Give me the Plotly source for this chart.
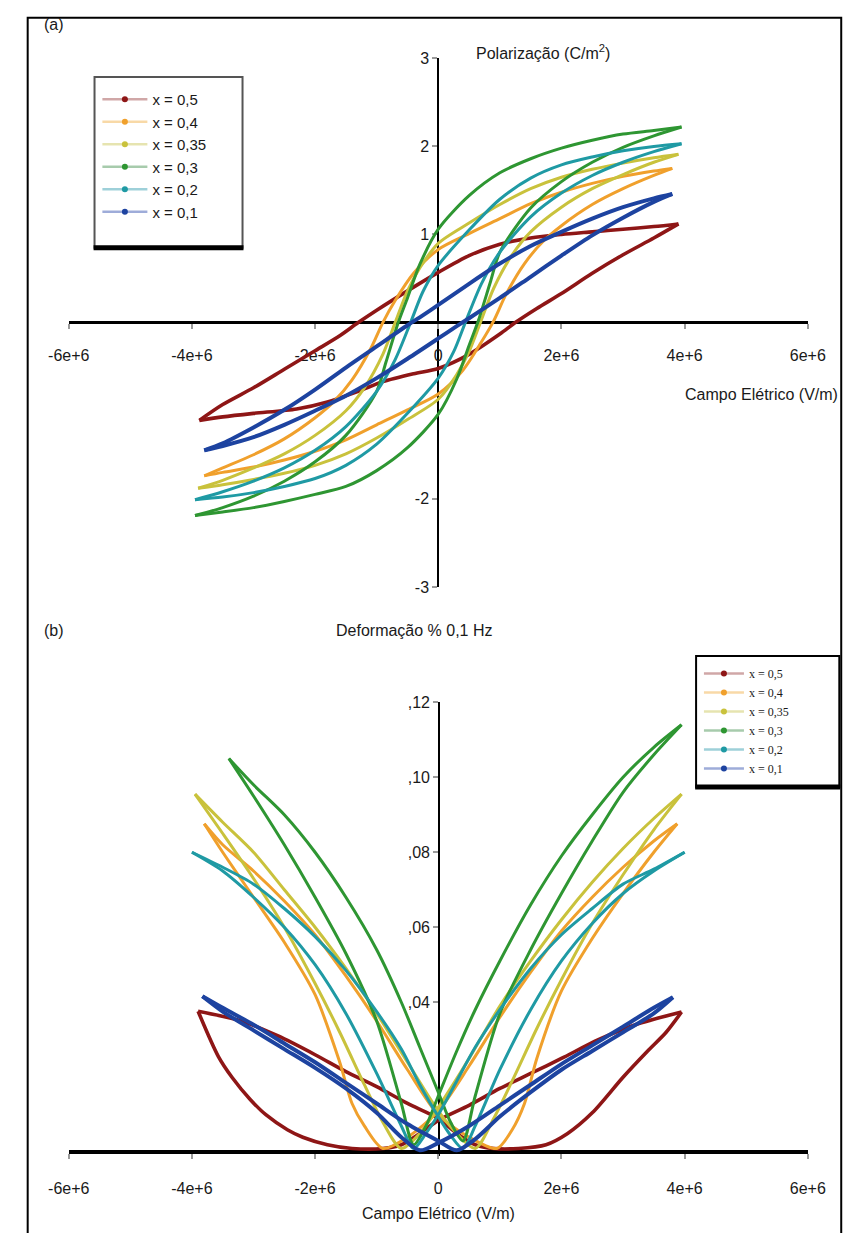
import plotly.graph_objects as go

W, H = 864, 1233

series_names = ["x = 0,5", "x = 0,4", "x = 0,35", "x = 0,3", "x = 0,2", "x = 0,1"]
line_colors = ["#8e1616", "#f0a02c", "#c9c23c", "#2e9632", "#1f9aa4", "#1d43a0"]
legend_line_colors = ["rgba(150,60,60,0.45)", "rgba(240,170,60,0.45)", "rgba(200,195,80,0.45)",
                      "rgba(60,140,70,0.45)", "rgba(40,150,170,0.45)", "rgba(40,70,170,0.45)"]

e_ticks = [-6, -4, -2, 0, 2, 4, 6]
e_tick_text = ["-6e+6", "-4e+6", "-2e+6", "0", "2e+6", "4e+6", "6e+6"]
p_ticks = [-3, -2, 1, 2, 3]
p_tick_text = ["-3", "-2", "1", "2", "3"]
s_ticks = [0.04, 0.06, 0.08, 0.10, 0.12]
s_tick_text = [",04", ",06", ",08", ",10", ",12"]

# (a) polarization loops, (E [MV/m], P [C/m2]); "down" = field sweeping from +Emax to -Emax
pol_05_down = [(3.9, 1.12), (3.5, 1.09), (3.0, 1.06), (2.5, 1.03), (2.0, 1.00), (1.5, 0.96), (1.0, 0.89),
               (0.5, 0.76), (0.0, 0.57), (-0.5, 0.36), (-1.0, 0.14), (-1.3, 0.0), (-1.6, -0.15),
               (-2.0, -0.32), (-2.5, -0.53), (-3.0, -0.74), (-3.5, -0.93), (-3.88, -1.11)]
pol_05_up = [(-3.88, -1.11), (-3.5, -1.07), (-3.0, -1.03), (-2.3, -0.98), (-1.8, -0.90), (-1.3, -0.78),
             (-0.9, -0.67), (-0.4, -0.58), (0.0, -0.52), (0.5, -0.36), (1.0, -0.13), (1.25, 0.0),
             (1.6, 0.16), (2.0, 0.33), (2.5, 0.56), (3.0, 0.77), (3.5, 0.96), (3.9, 1.12)]

pol_04_down = [(3.8, 1.75), (3.5, 1.72), (3.0, 1.66), (2.5, 1.58), (2.0, 1.48), (1.5, 1.35), (1.0, 1.18),
               (0.5, 1.01), (0.0, 0.83), (-0.4, 0.56), (-0.7, 0.25), (-0.9, 0.0), (-1.1, -0.30),
               (-1.4, -0.65), (-1.7, -0.90), (-2.0, -1.08), (-2.5, -1.32), (-3.0, -1.50), (-3.5, -1.65),
               (-3.8, -1.74)]
pol_04_up = [(-3.8, -1.74), (-3.5, -1.70), (-3.0, -1.64), (-2.5, -1.56), (-2.0, -1.46), (-1.5, -1.33),
             (-1.0, -1.16), (-0.5, -0.99), (0.0, -0.81), (0.4, -0.54), (0.7, -0.22), (0.9, 0.02),
             (1.1, 0.32), (1.4, 0.67), (1.7, 0.92), (2.0, 1.10), (2.5, 1.34), (3.0, 1.52), (3.5, 1.67),
             (3.8, 1.75)]

pol_035_down = [(3.9, 1.91), (3.5, 1.87), (3.0, 1.81), (2.5, 1.74), (2.0, 1.65), (1.5, 1.52), (1.0, 1.34),
                (0.5, 1.13), (0.0, 0.90), (-0.3, 0.62), (-0.5, 0.36), (-0.7, 0.0), (-0.9, -0.36),
                (-1.2, -0.74), (-1.5, -1.0), (-2.0, -1.28), (-2.5, -1.49), (-3.0, -1.65), (-3.5, -1.79),
                (-3.9, -1.88)]
pol_035_up = [(-3.9, -1.88), (-3.5, -1.84), (-3.0, -1.78), (-2.5, -1.71), (-2.0, -1.62), (-1.5, -1.49),
              (-1.0, -1.31), (-0.5, -1.10), (0.0, -0.87), (0.3, -0.59), (0.5, -0.33), (0.7, 0.03),
              (0.9, 0.39), (1.2, 0.77), (1.5, 1.03), (2.0, 1.31), (2.5, 1.52), (3.0, 1.68), (3.5, 1.82),
              (3.9, 1.91)]

pol_03_down = [(3.95, 2.22), (3.5, 2.18), (3.0, 2.14), (2.5, 2.07), (2.0, 1.98), (1.5, 1.86), (1.0, 1.70),
               (0.5, 1.44), (0.0, 1.06), (-0.3, 0.66), (-0.5, 0.28), (-0.65, 0.0), (-0.85, -0.45),
               (-1.0, -0.78), (-1.5, -1.28), (-2.0, -1.58), (-2.5, -1.80), (-3.0, -1.97), (-3.5, -2.10),
               (-3.95, -2.19)]
pol_03_up = [(-3.95, -2.19), (-3.5, -2.15), (-3.0, -2.10), (-2.5, -2.03), (-2.0, -1.95), (-1.5, -1.86),
             (-1.0, -1.68), (-0.5, -1.42), (0.0, -1.04), (0.3, -0.64), (0.5, -0.26), (0.65, 0.02),
             (0.85, 0.47), (1.0, 0.80), (1.5, 1.30), (2.0, 1.60), (2.5, 1.82), (3.0, 1.99), (3.5, 2.12),
             (3.95, 2.22)]

pol_02_down = [(3.95, 2.03), (3.5, 2.0), (3.0, 1.95), (2.5, 1.88), (2.0, 1.79), (1.5, 1.64), (1.0, 1.40),
               (0.5, 1.05), (0.0, 0.65), (-0.25, 0.35), (-0.45, 0.0), (-0.7, -0.42), (-1.0, -0.78),
               (-1.5, -1.18), (-2.0, -1.45), (-2.5, -1.65), (-3.0, -1.80), (-3.5, -1.92), (-3.95, -2.01)]
pol_02_up = [(-3.95, -2.01), (-3.5, -1.98), (-3.0, -1.93), (-2.5, -1.86), (-2.0, -1.77), (-1.5, -1.62),
             (-1.0, -1.38), (-0.5, -1.03), (0.0, -0.63), (0.25, -0.33), (0.45, 0.02), (0.7, 0.44),
             (1.0, 0.80), (1.5, 1.20), (2.0, 1.47), (2.5, 1.67), (3.0, 1.82), (3.5, 1.94), (3.95, 2.03)]

pol_01_down = [(3.8, 1.46), (3.5, 1.41), (3.0, 1.31), (2.5, 1.18), (2.0, 1.03), (1.5, 0.87), (1.0, 0.67),
               (0.5, 0.44), (0.0, 0.20), (-0.3, 0.06), (-0.5, -0.03), (-1.0, -0.27), (-1.5, -0.51),
               (-2.0, -0.76), (-2.5, -0.99), (-3.0, -1.19), (-3.5, -1.37), (-3.8, -1.45)]
pol_01_up = [(-3.8, -1.45), (-3.5, -1.40), (-3.0, -1.30), (-2.5, -1.16), (-2.0, -1.00), (-1.5, -0.83),
             (-1.0, -0.63), (-0.5, -0.41), (0.0, -0.18), (0.3, -0.04), (0.5, 0.05), (1.0, 0.28),
             (1.5, 0.52), (2.0, 0.76), (2.5, 0.99), (3.0, 1.19), (3.5, 1.37), (3.8, 1.46)]

# (b) strain butterflies at 0.1 Hz, (E [MV/m], S [%])
str_05_down = [(3.95, 0.0374), (3.2, 0.034), (2.6, 0.030), (2.0, 0.025), (1.5, 0.021), (1.0, 0.017),
               (0.5, 0.0125), (0.0, 0.0085), (-0.3, 0.005), (-0.6, 0.002), (-0.9, 0.001), (-1.4, 0.001),
               (-1.8, 0.002), (-2.2, 0.004), (-2.45, 0.006), (-2.8, 0.010), (-3.05, 0.014), (-3.35, 0.020),
               (-3.57, 0.0255), (-3.9, 0.0376)]
str_05_up = [(-3.9, 0.0376), (-3.2, 0.035), (-2.6, 0.031), (-2.0, 0.026), (-1.5, 0.0215), (-1.0, 0.0175),
             (-0.5, 0.013), (0.0, 0.009), (0.3, 0.005), (0.6, 0.002), (0.9, 0.001), (1.3, 0.001),
             (1.75, 0.002), (2.1, 0.005), (2.5, 0.0105), (3.0, 0.020), (3.4, 0.027), (3.7, 0.032),
             (3.95, 0.0374)]

str_04_down = [(3.88, 0.0876), (3.5, 0.083), (3.0, 0.076), (2.5, 0.068), (2.0, 0.059), (1.5, 0.048),
               (1.0, 0.036), (0.5, 0.023), (0.0, 0.011), (-0.5, 0.004), (-0.9, 0.001), (-1.2, 0.007),
               (-1.4, 0.013), (-1.6, 0.024), (-2.0, 0.042), (-2.5, 0.056), (-3.0, 0.068), (-3.5, 0.080),
               (-3.8, 0.0876)]
str_04_up = [(-3.8, 0.0876), (-3.5, 0.082), (-3.0, 0.075), (-2.5, 0.067), (-2.0, 0.058), (-1.5, 0.047),
             (-1.0, 0.035), (-0.5, 0.022), (0.0, 0.010), (0.5, 0.004), (0.95, 0.001), (1.2, 0.006),
             (1.4, 0.013), (1.6, 0.025), (2.0, 0.043), (2.5, 0.057), (3.0, 0.069), (3.5, 0.080),
             (3.88, 0.0876)]

str_035_down = [(3.95, 0.0955), (3.5, 0.089), (3.0, 0.081), (2.5, 0.072), (2.0, 0.062), (1.5, 0.051),
                (1.0, 0.039), (0.5, 0.025), (0.0, 0.012), (-0.3, 0.005), (-0.6, 0.001), (-0.9, 0.008),
                (-1.2, 0.018), (-1.6, 0.032), (-2.0, 0.045), (-2.5, 0.060), (-3.0, 0.073), (-3.5, 0.085),
                (-3.95, 0.0955)]
str_035_up = [(-3.95, 0.0955), (-3.5, 0.088), (-3.0, 0.080), (-2.5, 0.070), (-2.0, 0.060), (-1.5, 0.049),
              (-1.0, 0.037), (-0.5, 0.024), (0.0, 0.011), (0.3, 0.005), (0.6, 0.001), (0.9, 0.009),
              (1.2, 0.019), (1.6, 0.033), (2.0, 0.046), (2.5, 0.061), (3.0, 0.074), (3.5, 0.086),
              (3.95, 0.0955)]

str_03_down = [(3.95, 0.114), (3.5, 0.108), (3.0, 0.100), (2.5, 0.090), (2.0, 0.079), (1.5, 0.066),
               (1.0, 0.051), (0.6, 0.038), (0.3, 0.027), (0.0, 0.015), (-0.2, 0.007), (-0.4, 0.002),
               (-0.6, 0.013), (-1.0, 0.035), (-1.5, 0.053), (-2.0, 0.068), (-2.5, 0.082), (-3.0, 0.095),
               (-3.4, 0.105)]
str_03_up = [(-3.4, 0.105), (-3.0, 0.098), (-2.5, 0.090), (-2.0, 0.080), (-1.5, 0.068), (-1.0, 0.054),
             (-0.6, 0.040), (-0.3, 0.028), (0.0, 0.016), (0.2, 0.008), (0.4, 0.003), (0.6, 0.015),
             (1.0, 0.037), (1.5, 0.054), (2.0, 0.069), (2.5, 0.083), (3.0, 0.096), (3.5, 0.106),
             (3.95, 0.114)]

str_02_down = [(4.0, 0.080), (3.5, 0.0755), (3.0, 0.0715), (2.5, 0.065), (2.0, 0.058), (1.5, 0.049),
               (1.0, 0.038), (0.6, 0.028), (0.3, 0.019), (0.0, 0.010), (-0.2, 0.005), (-0.4, 0.001),
               (-0.6, 0.007), (-1.0, 0.021), (-1.5, 0.037), (-2.0, 0.050), (-2.5, 0.060), (-3.0, 0.068),
               (-3.5, 0.075), (-4.0, 0.080)]
str_02_up = [(-4.0, 0.080), (-3.5, 0.076), (-3.0, 0.0715), (-2.5, 0.065), (-2.0, 0.0575), (-1.5, 0.0485),
             (-1.0, 0.0375), (-0.6, 0.0275), (-0.3, 0.018), (0.0, 0.0095), (0.2, 0.0045), (0.4, 0.001),
             (0.6, 0.007), (1.0, 0.022), (1.5, 0.038), (2.0, 0.051), (2.5, 0.061), (3.0, 0.069),
             (3.5, 0.075), (4.0, 0.080)]

str_01_down = [(3.81, 0.0413), (3.5, 0.0385), (3.0, 0.0335), (2.5, 0.0285), (2.0, 0.0235), (1.5, 0.0180),
               (1.0, 0.0125), (0.5, 0.0070), (0.0, 0.0025), (-0.3, 0.0005), (-0.6, 0.004), (-1.0, 0.0105),
               (-1.5, 0.0170), (-2.0, 0.0225), (-2.5, 0.0275), (-3.0, 0.0325), (-3.5, 0.0375),
               (-3.83, 0.0416)]
str_01_up = [(-3.83, 0.0416), (-3.5, 0.0385), (-3.0, 0.0340), (-2.5, 0.0290), (-2.0, 0.0240), (-1.5, 0.0185),
             (-1.0, 0.0130), (-0.5, 0.0075), (0.0, 0.0030), (0.3, 0.0005), (0.6, 0.0035), (1.0, 0.0095),
             (1.5, 0.0160), (2.0, 0.0220), (2.5, 0.0270), (3.0, 0.0320), (3.5, 0.0370), (3.81, 0.0413)]

pol_loops = [(pol_05_down, pol_05_up), (pol_04_down, pol_04_up), (pol_035_down, pol_035_up),
             (pol_03_down, pol_03_up), (pol_02_down, pol_02_up), (pol_01_down, pol_01_up)]
str_loops = [(str_05_down, str_05_up), (str_04_down, str_04_up), (str_035_down, str_035_up),
             (str_03_down, str_03_up), (str_02_down, str_02_up), (str_01_down, str_01_up)]

MV = 1e6  # field values are stored in MV/m


def fx(px):
    return px / W


def fy(py):
    return 1 - py / H


fig = go.Figure()

line_widths = [3.6, 3.0, 3.0, 3.0, 3.0, 4.0]

for branches_a, branches_b, color, lw in zip(pol_loops, str_loops, line_colors, line_widths):
    for branch in branches_a:
        e, v = zip(*branch)
        fig.add_trace(go.Scatter(x=[k * MV for k in e], y=list(v), xaxis="x", yaxis="y",
                                 mode="lines", line=dict(color=color, width=lw, shape="spline", smoothing=0.8),
                                 showlegend=False, hoverinfo="skip"))
    for branch in branches_b:
        e, v = zip(*branch)
        fig.add_trace(go.Scatter(x=[k * MV for k in e], y=list(v), xaxis="x2", yaxis="y2",
                                 mode="lines", line=dict(color=color, width=lw, shape="spline", smoothing=0.8),
                                 showlegend=False, hoverinfo="skip"))

# legend samples for both panels
for name, color, lcolor in zip(series_names, line_colors, legend_line_colors):
    for lg in ("legend", "legend2"):
        fig.add_trace(go.Scatter(x=[None], y=[None], xaxis="x", yaxis="y", mode="lines+markers", name=name,
                                 line=dict(color=lcolor, width=2.5), marker=dict(color=color, size=6),
                                 legend=lg, showlegend=True))

tickfont = dict(family="Liberation Sans", size=16, color="#1a1a1a")

axis_common = dict(showgrid=False, zeroline=False, showline=True, linecolor="black",
                   ticks="outside", ticklen=5, tickcolor="#9a9a9a", tickwidth=2,
                   tickfont=tickfont, layer="below traces", fixedrange=True)

fig.update_layout(
    width=W, height=H,
    margin=dict(l=0, r=0, t=0, b=0),
    paper_bgcolor="white", plot_bgcolor="rgba(0,0,0,0)",
    xaxis=dict(domain=[fx(50), fx(824)], range=[-6 * MV, 6 * MV], anchor="free", position=fy(318),
               tickvals=[k * MV for k in e_ticks], ticktext=e_tick_text, linewidth=3,
               ticklabelstandoff=13, **axis_common),
    yaxis=dict(domain=[fy(587), fy(51)], range=[-3, 3], anchor="free", position=fx(437),
               tickvals=p_ticks, ticktext=p_tick_text, linewidth=2, **axis_common),
    xaxis2=dict(domain=[fx(50), fx(824)], range=[-6 * MV, 6 * MV], anchor="free", position=fy(1160),
                tickvals=[k * MV for k in e_ticks], ticktext=e_tick_text, linewidth=3.5,
                ticklabelstandoff=16, **axis_common),
    yaxis2=dict(domain=[fy(1164), fy(704)], range=[-0.001, 0.12], anchor="free", position=fx(438),
                tickvals=s_ticks, ticktext=s_tick_text, linewidth=2, **axis_common),
    legend=dict(x=fx(80), y=fy(76), xanchor="left", yanchor="top", bgcolor="rgba(0,0,0,0)",
                borderwidth=0, itemwidth=45, tracegroupgap=0,
                font=dict(family="Liberation Sans", size=15, color="#1a1a1a")),
    legend2=dict(x=fx(710), y=fy(660), xanchor="left", yanchor="top", bgcolor="rgba(0,0,0,0)",
                 borderwidth=0, itemwidth=40, tracegroupgap=0,
                 font=dict(family="Liberation Serif", size=12, color="#1a1a1a")),
    showlegend=True,
)

shapes = [
    # outer frame
    dict(type="rect", xref="paper", yref="paper", x0=fx(7), x1=fx(859), y0=fy(1250), y1=fy(10),
         line=dict(color="black", width=2), fillcolor="rgba(0,0,0,0)", layer="above"),
    # legend box (a)
    dict(type="rect", xref="paper", yref="paper", x0=fx(77), x1=fx(232), y0=fy(243), y1=fy(70),
         line=dict(color="#555", width=2), fillcolor="white", layer="above"),
    dict(type="line", xref="paper", yref="paper", x0=fx(76), x1=fx(233), y0=fy(243), y1=fy(243),
         line=dict(color="black", width=5), layer="above"),
    # legend box (b)
    dict(type="rect", xref="paper", yref="paper", x0=fx(707), x1=fx(857), y0=fy(790), y1=fy(657),
         line=dict(color="black", width=2), fillcolor="white", layer="above"),
    dict(type="line", xref="paper", yref="paper", x0=fx(706), x1=fx(858), y0=fy(790), y1=fy(790),
         line=dict(color="black", width=5), layer="above"),
]

label_font = dict(family="Liberation Sans", size=16, color="#1a1a1a")
annotations = [
    dict(text="(a)", x=fx(22), y=fy(17), xref="paper", yref="paper", xanchor="left", yanchor="middle",
         showarrow=False, font=label_font),
    dict(text="Polarização (C/m<sup>2</sup>)", x=fx(474), y=fy(45), xref="paper", yref="paper",
         xanchor="left", yanchor="middle", showarrow=False, font=label_font),
    dict(text="Campo Elétrico (V/m)", x=fx(858), y=fy(392), xref="paper", yref="paper",
         xanchor="right", yanchor="middle", showarrow=False, font=label_font),
    dict(text="(b)", x=fx(22), y=fy(631), xref="paper", yref="paper", xanchor="left", yanchor="middle",
         showarrow=False, font=label_font),
    dict(text="Deformação % 0,1 Hz", x=fx(412), y=fy(631), xref="paper", yref="paper",
         xanchor="center", yanchor="middle", showarrow=False, font=label_font),
    dict(text="Campo Elétrico (V/m)", x=fx(437), y=fy(1222), xref="paper", yref="paper",
         xanchor="center", yanchor="middle", showarrow=False, font=label_font),
]

fig.update_layout(shapes=shapes, annotations=annotations)

fig.write_html("out.html")
